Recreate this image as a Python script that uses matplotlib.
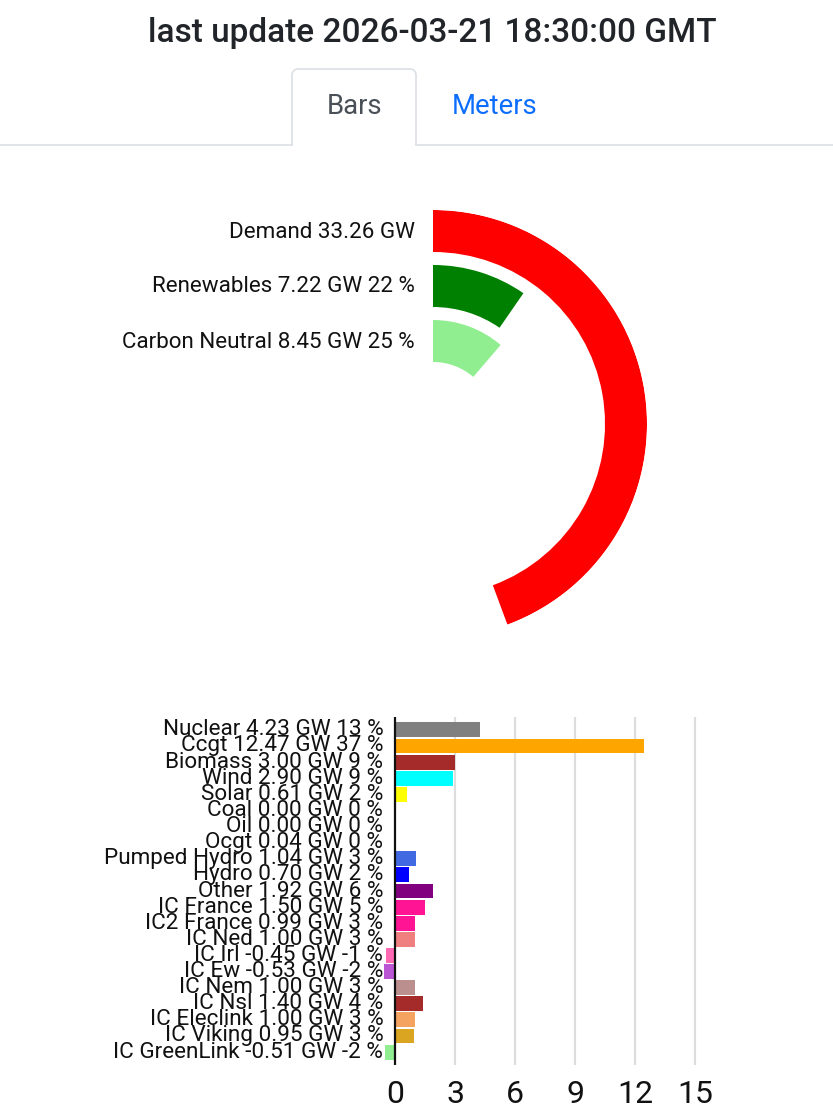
import numpy as np
import matplotlib
matplotlib.use("Agg")
import matplotlib.pyplot as plt
from matplotlib.transforms import ScaledTranslation

plt.rcParams['font.family'] = ['Roboto', 'DejaVu Sans']

# ---------------- data ----------------
title_text = "last update 2026-03-21 18:30:00 GMT"
tabs = ["Bars", "Meters"]

ring_names = ["Demand", "Renewables", "Carbon Neutral"]
ring_values = [33.26, 7.22, 8.45]
ring_pcts = [None, 22, 25]
ring_colors = ["#ff0000", "#008000", "#90ee90"]
ring_max = 75.0

categories = ["Nuclear", "Ccgt", "Biomass", "Wind", "Solar", "Coal", "Oil", "Ocgt",
              "Pumped Hydro", "Hydro", "Other", "IC France", "IC2 France", "IC Ned",
              "IC Irl", "IC Ew", "IC Nem", "IC Nsl", "IC Eleclink", "IC Viking",
              "IC GreenLink"]
values = [4.23, 12.47, 3.00, 2.90, 0.61, 0.00, 0.00, 0.04, 1.04, 0.70, 1.92, 1.50,
          0.99, 1.00, -0.45, -0.53, 1.00, 1.40, 1.00, 0.95, -0.51]
percents = [13, 37, 9, 9, 2, 0, 0, 0, 3, 2, 6, 5, 3, 3, -1, -2, 3, 4, 3, 3, -2]
colors = ["#808080", "#ffa500", "#a52a2a", "#00ffff", "#ffff00", "#000000", "#696969",
          "#d2691e", "#4169e1", "#0000ff", "#800080", "#ff1493", "#ff1493", "#f08080",
          "#ff69b4", "#ba55d3", "#bc8f8f", "#a52a2a", "#f4a460", "#daa520", "#90ee90"]
xticks = [0, 3, 6, 9, 12, 15]

# ---------------- figure ----------------
W, H = 833, 1116
fig = plt.figure(figsize=(W / 100, H / 100), dpi=100)
fig.patch.set_facecolor("white")

def fx(px):
    return px / W

def fy(py):
    return 1 - py / H

bg = fig.add_axes([0, 0, 1, 1])
bg.set_xlim(0, W)
bg.set_ylim(H, 0)
bg.axis("off")

# title
bg.text(432, 33, title_text, ha="center", va="center", fontsize=24,
        fontweight="medium", color="#212529")

# tabs
border = "#dee2e6"
bg.plot([0, 292], [145, 145], color=border, lw=1.3)
bg.plot([416, W], [145, 145], color=border, lw=1.3)
r = 6
t = np.linspace(np.pi, np.pi / 2, 10)
left_arc_x = 292 + r + r * np.cos(t)
left_arc_y = 69 + r - r * np.sin(t)
t2 = np.linspace(np.pi / 2, 0, 10)
right_arc_x = 416 - r + r * np.cos(t2)
right_arc_y = 69 + r - r * np.sin(t2)
tx = np.concatenate([[292], left_arc_x, right_arc_x, [416]])
ty = np.concatenate([[145], left_arc_y, right_arc_y, [145]])
bg.plot(tx, ty, color=border, lw=1.3)
bg.text(355, 107, tabs[0], ha="center", va="center", fontsize=19.8, color="#495057")
bg.text(495, 107, tabs[1], ha="center", va="center", fontsize=19.8, color="#0d6efd")

# ---------------- radial bars ----------------
cx, cy, R = 433, 424, 214
pax = fig.add_axes([fx(cx - R), fy(cy + R), fx(2 * R), 2 * R / H], projection="polar")
pax.set_theta_zero_location("N")
pax.set_theta_direction(-1)
pax.set_ylim(0, R)
pax.axis("off")
band = 42
step = 55
for i, (v, c) in enumerate(zip(ring_values, ring_colors)):
    inner = R - band - step * i
    span = v / ring_max * 2 * np.pi
    pax.bar(0, band, width=span, bottom=inner, align="edge", color=c, linewidth=0)
    if ring_pcts[i] is None:
        lab = f"{ring_names[i]} {v:.2f} GW"
    else:
        lab = f"{ring_names[i]} {v:.2f} GW {ring_pcts[i]} %"
    bg.text(415, cy - (inner + band / 2) + 1, lab, ha="right", va="center",
            fontsize=16.1, color="#111111")

# ---------------- horizontal bar chart ----------------
ax = fig.add_axes([fx(375), fy(1065), fx(705 - 375), (1065 - 717) / H])
ypos = np.arange(len(categories))
ax.barh(ypos, values, height=0.92, color=colors, zorder=3)
ax.set_xlim(-1, 15.5)
ax.set_ylim(len(categories) - 0.2, -0.8)
for s in ax.spines.values():
    s.set_visible(False)
for xt in xticks[1:]:
    ax.axvline(xt, color="#dddddd", lw=1.6, zorder=1)
ax.axvline(0, color="#111111", lw=1.6, zorder=4)
labels = [f"{c} {v:.2f} GW {p} %" for c, v, p in zip(categories, values, percents)]
ax.set_yticks(ypos)
ax.set_yticklabels(labels, fontsize=16.2, color="#111111")
ax.set_xticks(xticks)
ax.set_xticklabels([str(x) for x in xticks], fontsize=23, color="#111111")
ax.tick_params(axis="y", length=0, pad=-6)
ax.tick_params(axis="x", length=0, pad=11)
ax.set_facecolor("none")
shift = ScaledTranslation(0, 2.5 / 100, fig.dpi_scale_trans)
for lbl in ax.get_yticklabels():
    lbl.set_transform(lbl.get_transform() + shift)

fig.savefig("out.png", dpi=100, facecolor="white")
